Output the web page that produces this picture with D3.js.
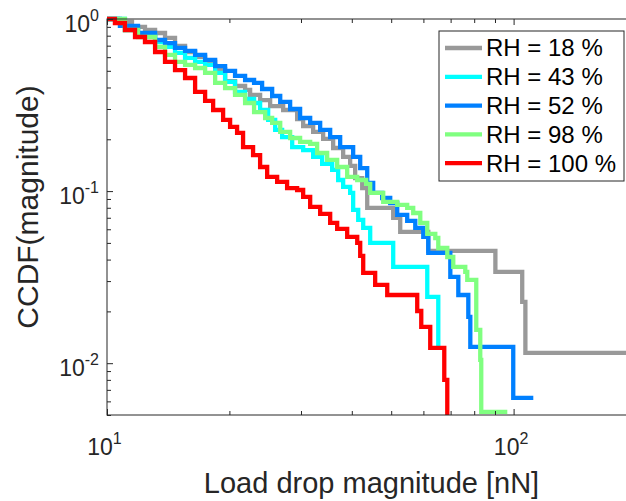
<!DOCTYPE html>
<html>
<head>
<meta charset="utf-8">
<script src="https://cdn.jsdelivr.net/npm/d3@7"></script>
<style>
  body { margin: 0; background: #fff; }
  svg { display: block; font-family: "Liberation Sans", Arial, sans-serif; }
</style>
</head>
<body>
<div id="chart"></div>
<script>
// CCDF of load drop magnitudes, one step curve per humidity
const seriesNames = ['RH = 18 %', 'RH = 43 %', 'RH = 52 %', 'RH = 98 %', 'RH = 100 %'];
const seriesColors = ['#999999', '#00ffff', '#0080ff', '#80ff80', '#ff0000'];

const rh18X = [10, 10.64, 11.52, 12.40, 13.13, 13.89, 14.70, 15.56, 16.47, 17.43, 18.45, 19.52, 20.65, 21.86, 22.49, 23.80, 25.19, 27.12, 29.35, 30.37, 32.14, 34.01, 35.99, 38.09, 39.63, 40.77, 42.43, 43.65, 50.57, 52.62, 61.68, 90.2, 105.0, 106.9, 200];
const rh18Y = [1, 0.961, 0.899, 0.863, 0.829, 0.776, 0.697, 0.643, 0.602, 0.563, 0.512, 0.436, 0.408, 0.387, 0.362, 0.338, 0.312, 0.296, 0.262, 0.239, 0.221, 0.201, 0.178, 0.158, 0.140, 0.119, 0.104, 0.0800, 0.0698, 0.0579, 0.0449, 0.0339, 0.0227, 0.01148, 0.01148];

const rh43X = [10, 11.07, 11.92, 13.13, 13.89, 14.70, 15.56, 16.47, 17.43, 18.45, 19.52, 20.65, 21.86, 23.00, 23.80, 24.91, 25.92, 26.96, 28.54, 30.37, 32.14, 33.82, 35.79, 37.03, 38.09, 39.63, 40.31, 41.48, 42.67, 44.39, 50.57, 61.33, 65.28];
const rh43Y = [1, 0.863, 0.807, 0.735, 0.688, 0.635, 0.594, 0.563, 0.541, 0.486, 0.431, 0.377, 0.343, 0.325, 0.296, 0.259, 0.227, 0.206, 0.180, 0.173, 0.158, 0.144, 0.133, 0.116, 0.1057, 0.0976, 0.0777, 0.0680, 0.0611, 0.0500, 0.0363, 0.0243, 0.01211];

const rh52X = [10, 10.76, 11.92, 13.13, 13.89, 14.70, 15.56, 16.47, 17.43, 18.45, 19.52, 20.65, 21.86, 23.00, 24.07, 25.48, 26.67, 28.21, 29.85, 31.60, 33.44, 35.39, 37.45, 40.31, 41.95, 43.65, 45.15, 47.51, 49.72, 51.73, 54.74, 57.3, 59.96, 61.68, 69.88, 73.12, 77.38, 78.26, 99.8, 111.8];
const rh52Y = [1, 0.911, 0.829, 0.755, 0.725, 0.679, 0.652, 0.618, 0.578, 0.533, 0.499, 0.467, 0.442, 0.425, 0.392, 0.357, 0.330, 0.300, 0.266, 0.249, 0.227, 0.206, 0.180, 0.158, 0.136, 0.1115, 0.0976, 0.0912, 0.0853, 0.0727, 0.0671, 0.0611, 0.0542, 0.0437, 0.0317, 0.0249, 0.0186, 0.01244, 0.00629, 0.00629];

const rh98X = [10, 11.07, 11.92, 13.13, 13.89, 14.70, 15.56, 16.47, 17.43, 18.45, 19.52, 20.65, 21.86, 23.00, 24.49, 25.48, 26.67, 28.21, 29.85, 31.60, 32.87, 34.79, 36.82, 38.97, 41.25, 43.40, 44.39, 47.79, 51.73, 54.74, 56.64, 58.95, 61.33, 64.18, 65.28, 68.69, 71.06, 76.06, 76.92, 80.94, 82.79, 83.26, 96.5];
const rh98Y = [1, 0.863, 0.786, 0.688, 0.618, 0.563, 0.541, 0.519, 0.486, 0.425, 0.397, 0.362, 0.325, 0.288, 0.266, 0.249, 0.221, 0.2035, 0.193, 0.188, 0.1665, 0.1517, 0.138, 0.1209, 0.116, 0.110, 0.0976, 0.0865, 0.0831, 0.0800, 0.0746, 0.0653, 0.0564, 0.0534, 0.0467, 0.0414, 0.0363, 0.0339, 0.0305, 0.0156, 0.01045, 0.00521, 0.00521];

const rh100X = [10, 10.46, 11.07, 11.72, 12.40, 13.13, 13.89, 14.70, 15.56, 16.47, 17.43, 18.24, 19.30, 20.08, 20.89, 21.61, 22.87, 23.80, 24.77, 26.21, 27.73, 29.35, 30.37, 31.60, 33.44, 35.39, 36.82, 38.97, 41.25, 41.95, 42.67, 45.66, 48.89, 57.94, 59.28, 62.37, 67.53, 68.69];
const rh100Y = [1, 0.948, 0.863, 0.786, 0.735, 0.643, 0.563, 0.505, 0.454, 0.377, 0.334, 0.296, 0.259, 0.236, 0.218, 0.180, 0.162, 0.138, 0.1209, 0.113, 0.104, 0.1015, 0.0925, 0.0809, 0.0737, 0.0653, 0.0603, 0.0542, 0.0500, 0.0420, 0.0335, 0.0285, 0.0249, 0.0201, 0.01625, 0.01227, 0.0080, 0.005];

const xMajor = [10, 100];
const xMinor = [20, 30, 40, 50, 60, 70, 80, 90];
const yMajor = [1, 0.1, 0.01];
const yMinor = [0.005, 0.006, 0.007, 0.008, 0.009, 0.02, 0.03, 0.04, 0.05, 0.06, 0.07, 0.08, 0.09, 0.2, 0.3, 0.4, 0.5, 0.6, 0.7, 0.8, 0.9];

const series = [
  { name: seriesNames[0], color: seriesColors[0], pts: d3.zip(rh18X, rh18Y) },
  { name: seriesNames[1], color: seriesColors[1], pts: d3.zip(rh43X, rh43Y) },
  { name: seriesNames[2], color: seriesColors[2], pts: d3.zip(rh52X, rh52Y) },
  { name: seriesNames[3], color: seriesColors[3], pts: d3.zip(rh98X, rh98Y) },
  { name: seriesNames[4], color: seriesColors[4], pts: d3.zip(rh100X, rh100Y) }
];

const W = 626, H = 501;
const margin = { top: 19, right: -10, bottom: 86, left: 107 };
const width = W - margin.left - margin.right;
const height = H - margin.top - margin.bottom;
const axisColor = '#262626';

const svg = d3.select('#chart').append('svg')
  .attr('width', W)
  .attr('height', H);

svg.append('rect').attr('width', W).attr('height', H).attr('fill', '#fff');

const g = svg.append('g')
  .attr('transform', `translate(${margin.left},${margin.top})`);

const x = d3.scaleLog().domain([10, 200]).range([0, width]);
const y = d3.scaleLog().domain([0.005, 1]).range([height, 0]);

// data lines, drawn in legend order so red ends on top
const line = d3.line()
  .x(d => x(d[0]))
  .y(d => y(d[1]))
  .curve(d3.curveStepAfter);

g.selectAll('.series')
  .data(series)
  .enter().append('path')
  .attr('class', 'series')
  .attr('d', d => line(d.pts))
  .attr('fill', 'none')
  .attr('stroke', d => d.color)
  .attr('stroke-width', 4.3)
  .attr('stroke-linejoin', 'miter');

function styleAxis(sel) {
  sel.select('.domain').remove();
  sel.selectAll('line').attr('stroke', axisColor).attr('stroke-width', 1);
}

// minor ticks (inward)
g.append('g').attr('transform', `translate(0,${height})`)
  .call(d3.axisBottom(x).tickValues(xMinor).tickSizeInner(-4).tickSizeOuter(0).tickFormat(''))
  .call(styleAxis);
g.append('g')
  .call(d3.axisTop(x).tickValues(xMinor).tickSizeInner(-4).tickSizeOuter(0).tickFormat(''))
  .call(styleAxis);
g.append('g')
  .call(d3.axisLeft(y).tickValues(yMinor).tickSizeInner(-4).tickSizeOuter(0).tickFormat(''))
  .call(styleAxis);

// major ticks
g.append('g')
  .call(d3.axisTop(x).tickValues(xMajor).tickSizeInner(-6).tickSizeOuter(0).tickFormat(''))
  .call(styleAxis);

const expX = d => Math.round(Math.log10(d));

g.append('g').attr('transform', `translate(0,${height})`)
  .call(d3.axisBottom(x).tickValues(xMajor).tickSizeInner(-6).tickSizeOuter(0).tickPadding(24).tickFormat(''))
  .call(styleAxis)
  .call(ax => ax.selectAll('.tick text').each(function(d) {
    const t = d3.select(this)
      .attr('fill', axisColor)
      .attr('font-size', 23)
      .attr('dy', '0.71em')
      .attr('dx', '-3');
    t.append('tspan').text('10');
    t.append('tspan').attr('font-size', 16).attr('dy', -11).text(expX(d));
  }));

g.append('g')
  .call(d3.axisLeft(y).tickValues(yMajor).tickSizeInner(-6).tickSizeOuter(0).tickPadding(8).tickFormat(''))
  .call(styleAxis)
  .call(ax => ax.selectAll('.tick text').each(function(d) {
    const t = d3.select(this)
      .attr('fill', axisColor)
      .attr('font-size', 23)
      .attr('dy', '0.55em');
    t.append('tspan').text('10');
    t.append('tspan').attr('font-size', 16).attr('dy', -11).text(expX(d));
  }));

// box
g.append('rect')
  .attr('width', width)
  .attr('height', height)
  .attr('fill', 'none')
  .attr('stroke', axisColor)
  .attr('stroke-width', 1);

// axis titles
svg.append('text')
  .attr('x', margin.left + width / 2)
  .attr('y', 493)
  .attr('text-anchor', 'middle')
  .attr('fill', axisColor)
  .attr('font-size', 29)
  .text('Load drop magnitude [nN]');

svg.append('text')
  .attr('transform', `translate(38,${margin.top + height / 2 - 10}) rotate(-90)`)
  .attr('text-anchor', 'middle')
  .attr('fill', axisColor)
  .attr('font-size', 30)
  .text('CCDF(magnitude)');

// legend
const legend = svg.append('g').attr('transform', 'translate(439,31)');
legend.append('rect')
  .attr('width', 185)
  .attr('height', 150)
  .attr('fill', '#fff')
  .attr('stroke', axisColor)
  .attr('stroke-width', 1);

const rows = legend.selectAll('.row')
  .data(series)
  .enter().append('g')
  .attr('class', 'row')
  .attr('transform', (d, i) => `translate(0,${17 + i * 28.8})`);

rows.append('line')
  .attr('x1', 6).attr('x2', 43)
  .attr('stroke', d => d.color)
  .attr('stroke-width', 4.3);

rows.append('text')
  .attr('x', 47)
  .attr('dy', '0.35em')
  .attr('fill', '#000')
  .attr('font-size', 24)
  .text(d => d.name);
</script>
</body>
</html>
